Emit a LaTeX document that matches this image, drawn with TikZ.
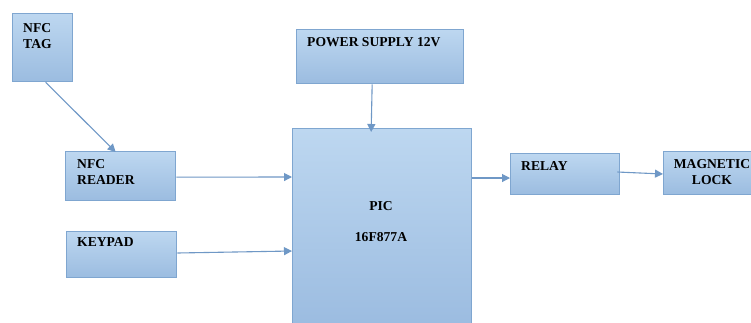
\documentclass[tikz,border=0pt]{standalone}
\usepackage{fontspec}
\setmainfont{Liberation Serif}
\usetikzlibrary{calc,arrows.meta}
\definecolor{boxtop}{HTML}{BDD7F0}
\definecolor{boxbot}{HTML}{9BBCE0}
\definecolor{picbot}{HTML}{94B6DD}
\definecolor{boxline}{HTML}{7FA6D0}
\definecolor{arrowc}{HTML}{6F98C6}
\tikzset{
  blk/.style={rectangle, draw=boxline, line width=1.3pt, top color=boxtop, bottom color=boxbot, inner sep=0pt, anchor=north west},
  lbl/.style={font=\bfseries\fontsize{13.6}{16.5}\selectfont, inner sep=0pt, align=left, anchor=north west},
  clbl/.style={font=\bfseries\fontsize{13.6}{16.5}\selectfont, inner sep=0pt, align=center},
  conn/.style={draw=arrowc, line width=1.1pt, -{Triangle[length=8pt,width=8pt]}}
}
\begin{document}
\begin{tikzpicture}[x=1pt,y=-1pt]
\clip (0,0) rectangle (751,322);
\fill[white] (0,0) rectangle (751,322);
% boxes
\node[blk, minimum width=60pt, minimum height=68pt] (tag) at (12,13) {};
\node[blk, minimum width=110pt, minimum height=49pt] (reader) at (65,151) {};
\node[blk, minimum width=110pt, minimum height=46pt] (keypad) at (66,231) {};
\node[blk, minimum width=167pt, minimum height=54pt] (power) at (296,29) {};
\node[blk, minimum width=179pt, minimum height=240pt, bottom color=picbot] (pic) at (292,128) {};
\node[blk, minimum width=109pt, minimum height=41pt] (relay) at (510,153) {};
\node[blk, minimum width=95pt, minimum height=43pt] (lock) at (663,151) {};
% labels
\node[lbl] (tagt) at (23,23) {NFC\\TAG};
\node[lbl] (readert) at (77,159) {NFC\\READER};
\node[lbl] (keypadt) at (77,237) {KEYPAD};
\node[lbl] (powert) at (307,37) {POWER SUPPLY 12V};
\node[lbl] (relayt) at (521,161) {RELAY};
\node[clbl, anchor=north] (lockt) at (712,159) {MAGNETIC\\LOCK};
\node[clbl, anchor=north] (pict) at (381,201) {PIC};
\node[clbl, anchor=north] (chipt) at (381,232) {16F877A};
% connectors
\draw[conn] ([xshift=3pt]tag.south) -- ([xshift=-5pt,yshift=-1pt]reader.north);
\draw[conn] ([yshift=-1pt]reader.east) -- ([yshift=-49pt]pic.north west);
\draw[conn] ([yshift=-22pt]keypad.north east) -- ([yshift=-123pt]pic.north west);
\draw[conn] ([xshift=-8pt]power.south) -- ([xshift=-11pt,yshift=-4pt]pic.north);
\draw[conn] ([yshift=-50pt]pic.north east) -- ([yshift=-25pt]relay.north west);
\draw[conn] ([xshift=-3pt,yshift=-19pt]relay.north east) -- ([yshift=-23pt]lock.north west);
\end{tikzpicture}
\end{document}
